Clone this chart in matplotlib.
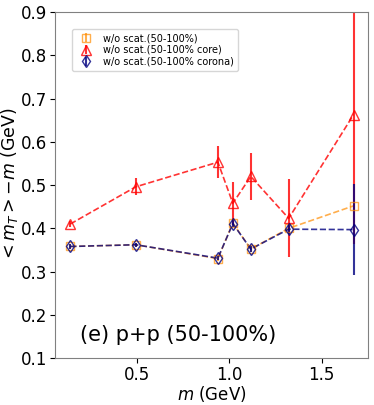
import numpy as np
import matplotlib
matplotlib.use("Agg")
import matplotlib.pyplot as plt

# hadron masses (GeV)
mass = [0.14, 0.494, 0.938, 1.019, 1.116, 1.321, 1.672]

# <mT> - m for each case
all_y = [0.358, 0.362, 0.330, 0.412, 0.352, 0.400, 0.452]
all_err = [0.005, 0.005, 0.005, 0.008, 0.006, 0.01, 0.01]
core_y = [0.410, 0.496, 0.553, 0.458, 0.520, 0.423, 0.663]
core_err = [0.006, 0.02, 0.037, 0.05, 0.055, 0.09, 0.30]
corona_y = [0.358, 0.362, 0.331, 0.411, 0.352, 0.398, 0.397]
corona_err = [0.005, 0.005, 0.005, 0.008, 0.006, 0.01, 0.105]

fig = plt.figure(figsize=(3.74, 4.05), dpi=100)
ax = fig.add_axes([0.147, 0.116, 0.837, 0.854])

series = [
    (all_y, all_err, "darkorange", "s", 6, 0.7, "w/o scat.(50-100%)"),
    (core_y, core_err, "red", "^", 7, 0.8, "w/o scat.(50-100% core)"),
    (corona_y, corona_err, "navy", "d", 6, 0.8, "w/o scat.(50-100% corona)"),
]
for y, e, c, m, ms, a, lab in series:
    ax.plot(mass, y, ls="--", color=c, lw=1.2, alpha=a)
    ax.errorbar(mass, y, yerr=e, color=c, marker=m, mfc="none", ms=ms,
                ls="none", elinewidth=1.5, alpha=a, label=lab)

ax.set_xlim(0.057, 1.75)
ax.set_ylim(0.1, 0.9)
ax.set_xticks([0.5, 1.0, 1.5])
ax.set_yticks(np.arange(0.1, 0.91, 0.1))
ax.tick_params(labelsize=12, pad=2)
ax.set_xlabel(r"$m$ (GeV)", fontsize=12, labelpad=0)
ax.set_ylabel(r"$<m_T> - m$ (GeV)", fontsize=12.5, labelpad=1)
for s in ax.spines.values():
    s.set_color("0.5")

ax.legend(loc="upper left", fontsize=7, bbox_to_anchor=(0.04, 0.965), labelspacing=0.2)
ax.text(0.08, 0.05, "(e) p+p (50-100%)", transform=ax.transAxes, fontsize=15)

plt.savefig("out.png", dpi=100)
